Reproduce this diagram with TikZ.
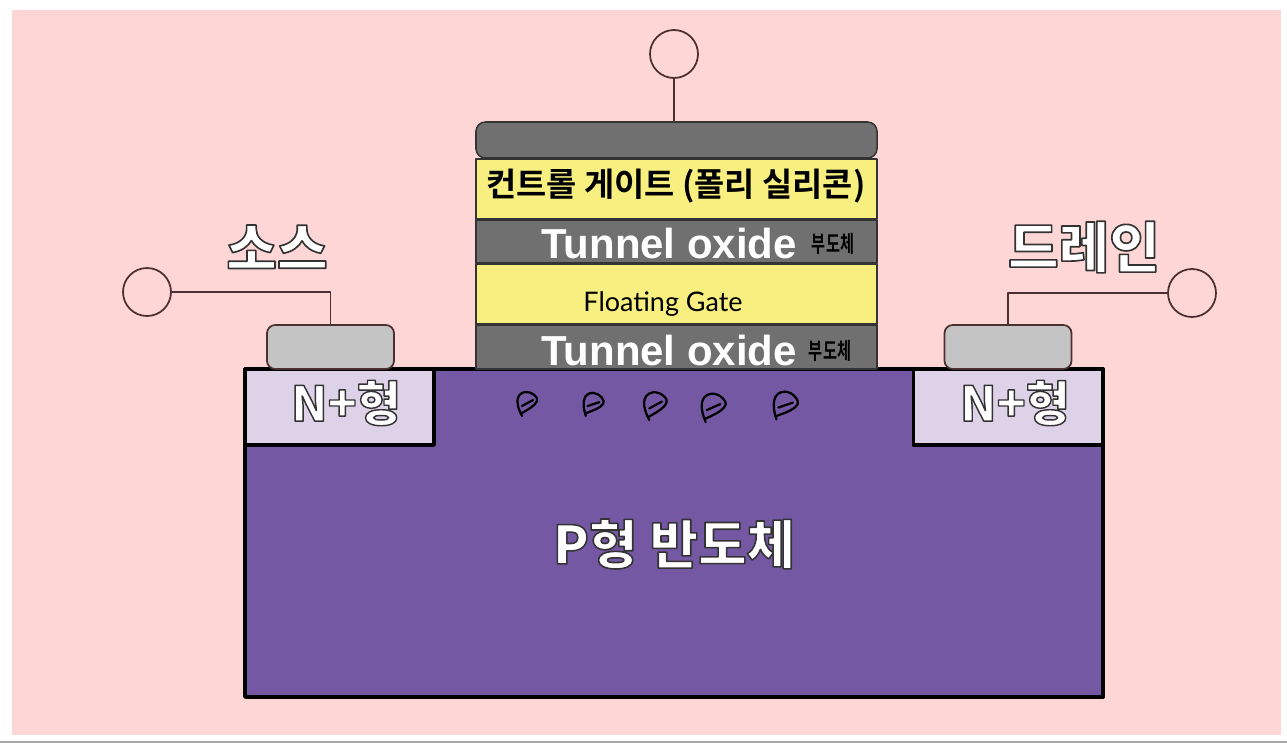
\documentclass[tikz,border=0pt]{standalone}
\usepackage{fontspec}
\setmainfont{Noto Sans CJK KR}
\newfontfamily\krfont{Noto Sans CJK KR}[BoldFont={* Bold}]
\newfontfamily\krline{Noto Sans CJK KR}[UprightFont={* Black},FakeBold=3]
\newfontfamily\latinfont{Liberation Sans}
\newfontfamily\handfont{Lato}
\usetikzlibrary{positioning}
\definecolor{bgpink}{HTML}{FFD6D6}
\definecolor{bodypurple}{HTML}{7558A4}
\definecolor{lightpurple}{HTML}{DDD2E8}
\definecolor{gatayellow}{HTML}{F7EF7F}
\definecolor{oxidegray}{HTML}{707070}
\definecolor{padgray}{HTML}{C4C4C4}
\definecolor{wirebrown}{HTML}{4A3030}
\newcommand{\outlined}[1]{\special{pdf:bcolor [1] [0.2]}#1\special{pdf:ecolor}}
\tikzset{
  layerbox/.style={draw=black!80,line width=1.3pt,minimum width=12.03cm,inner sep=0pt,outer sep=0pt},
  padbox/.style={draw=wirebrown,line width=1.5pt,fill=padgray,rounded corners=7pt,minimum width=3.81cm,minimum height=1.32cm,inner sep=0pt,outer sep=0pt},
  nbox/.style={draw=black,line width=3.2pt,fill=lightpurple,minimum width=5.67cm,minimum height=2.28cm,inner sep=0pt,outer sep=0pt},
  terminal/.style={circle,draw=wirebrown,line width=1.5pt,minimum size=1.44cm,inner sep=0pt,outer sep=0pt},
  wire/.style={draw=wirebrown,line width=1.5pt},
  oxidetext/.style={text=white,font=\latinfont\bfseries\fontsize{35.8}{36}\selectfont,inner sep=0pt},
  outlinetext/.style={font=\krline\fontsize{41}{41}\selectfont,inner sep=0pt},
  handnote/.style={font=\krfont\bfseries\fontsize{13}{13}\selectfont,inner sep=0pt,text=black,yscale=1.5,transform shape},
  hole/.pic={
    \draw[line width=1.9pt,line cap=round,line join=round] (-5,13) .. controls (-11,2) and (-12,-9) .. (-2,-11)
      .. controls (5,-12) and (12,-5) .. (10,-2) .. controls (8,3) and (0,7) .. (-5,10);
    \draw[line width=1.9pt,line cap=round] (-5,3) -- (6,-3);
  }
}
\begin{document}
\begin{tikzpicture}[x=0.03cm,y=-0.03cm,line cap=round,line join=round]
  \useasboundingbox (0,0) rectangle (1287,743);
  %--- Page and backdrop ---------------------------------------------------
  \fill[white] (0,0) rectangle (1287,743);
  \fill[bgpink] (12,10) rectangle (1281,735);
  \fill[black!35] (0,741) rectangle (1287,743);

  %--- Substrate and N+ wells ----------------------------------------------
  \node[draw=black,line width=3.2pt,fill=bodypurple,minimum width=25.74cm,minimum height=9.84cm,inner sep=0pt,outer sep=0pt] (body) at (674,533) {};
  \node[nbox] (nleft) at (339.5,407) {};
  \node[nbox] (nright) at (1008,407) {};
  \node[outlinetext] (nlefttext) at (346,403) {\outlined{N+형}};
  \node[outlinetext] (nrighttext) at (1015,403) {\outlined{N+형}};
  \node[outlinetext,font=\krline\fontsize{45}{45}\selectfont] (bodytext) at (674,544) {\outlined{P형 반도체}};

  %--- Gate stack ----------------------------------------------------------
  \node[layerbox,fill=oxidegray,minimum height=1.08cm,rounded corners=8pt] (metal) at (676.5,140) {};
  \node[layerbox,fill=gatayellow,minimum height=1.8cm] (control) at (676.5,189) {};
  \node[layerbox,fill=oxidegray,minimum height=1.29cm] (oxideup) at (676.5,241.5) {};
  \node[layerbox,fill=gatayellow,minimum height=1.8cm] (floating) at (676.5,294) {};
  \node[layerbox,fill=oxidegray,minimum height=1.32cm] (oxidedown) at (676.5,347) {};

  \node[font=\krfont\bfseries\fontsize{28}{28}\selectfont,inner sep=0pt] (controltext) at (676,186) {컨트롤 게이트 (폴리 실리콘)};
  \node[oxidetext] (oxideuptext) at (669,243) {Tunnel oxide};
  \node[oxidetext] (oxidedowntext) at (669,350) {Tunnel oxide};
  \node[handnote] (noteup) at (833,244) {부도체};
  \node[handnote] (notedown) at (830,351) {부도체};
  \node[font=\handfont\fontsize{23}{23}\selectfont,inner sep=0pt] (floatingtext) at (663,304) {Floating Gate};

  %--- Contacts and terminals ----------------------------------------------
  \node[padbox] (padleft) at (330.5,347) {};
  \node[padbox] (padright) at (1008,347) {};
  \node[terminal] (termgate) at (674,54) {};
  \node[terminal] (termleft) at (147,292) {};
  \node[terminal] (termright) at (1192,293) {};
  \draw[wire] (termgate) -- (termgate |- metal.north);
  \draw[wire] (termleft) -| (padleft);
  \draw[wire] (termright) -| (padright);

  \node[outlinetext,font=\krline\fontsize{47}{47}\selectfont] (sourcetext) at (277,247) {\outlined{소스}};
  \node[outlinetext,font=\krline\fontsize{47}{47}\selectfont] (draintext) at (1084,247) {\outlined{드레인}};

  %--- Carriers under the gate ---------------------------------------------
  \foreach \hx/\hy/\hr/\hs in {527/403/0/1, 593/404/-10/1, 655/405/0/1.15, 713/407/-5/1.2, 785/405/-10/1.2}
    \pic[rotate=\hr,scale=\hs] at (\hx,\hy) {hole};
\end{tikzpicture}
\end{document}
